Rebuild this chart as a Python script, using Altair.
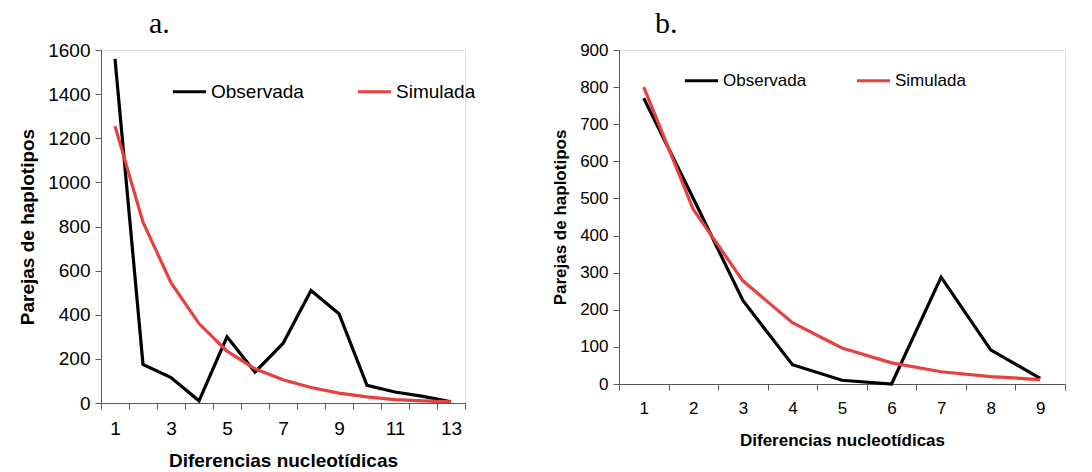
import altair as alt
import pandas as pd

# Panel a
a_x = list(range(1, 14))
a_obs = [1560, 175, 115, 10, 300, 140, 270, 510, 405, 80, 50, 30, 5]
a_sim = [1255, 820, 545, 360, 235, 155, 105, 70, 45, 28, 15, 10, 5]
a_yticks = [0, 200, 400, 600, 800, 1000, 1200, 1400, 1600]

# Panel b
b_x = list(range(1, 10))
b_obs = [770, 500, 225, 52, 10, 0, 288, 92, 15]
b_sim = [800, 470, 278, 165, 97, 57, 33, 20, 12]
b_yticks = [0, 100, 200, 300, 400, 500, 600, 700, 800, 900]

series = ["Observada", "Simulada"]
colors = ["#000000", "#E8403F"]

FONT = "Liberation Sans"


def frame(xs, obs, sim):
    rows = []
    for x, o, s in zip(xs, obs, sim):
        rows.append({"d": x, "v": o, "serie": series[0]})
        rows.append({"d": x, "v": s, "serie": series[1]})
    return pd.DataFrame(rows)


def panel(df, title, title_dx, yticks, ymax, w, h, lab_fs, tit_fs, xtp, legx, legy, colpad, label_expr):
    return alt.Chart(df).mark_line(strokeWidth=3.2, interpolate="linear").encode(
        x=alt.X("d:O", scale=alt.Scale(type="band", paddingInner=0, paddingOuter=0),
                axis=alt.Axis(title="Diferencias nucleotídicas", labelAngle=0, tickBand="extent",
                              labelExpr=label_expr, labelFontSize=lab_fs, labelFont=FONT,
                              labelColor="#000000", labelPadding=10, tickSize=6,
                              titleFont=FONT, titleFontSize=tit_fs, titleFontWeight="bold",
                              titleColor="#000000", titlePadding=xtp, domainColor="#595959",
                              tickColor="#595959", grid=False)),
        y=alt.Y("v:Q", scale=alt.Scale(domain=[0, ymax], nice=False),
                axis=alt.Axis(title="Parejas de haplotipos", values=yticks, format="d",
                              labelFontSize=lab_fs,
                              labelFont=FONT, labelColor="#000000", labelPadding=5, tickSize=6,
                              titleFont=FONT, titleFontSize=tit_fs, titleFontWeight="bold",
                              titleColor="#000000", titlePadding=10, domainColor="#595959",
                              tickColor="#595959", grid=False)),
        color=alt.Color("serie:N", scale=alt.Scale(domain=series, range=colors),
                        legend=alt.Legend(title=None, orient="none", legendX=legx, legendY=legy,
                                          direction="horizontal", symbolType="stroke",
                                          symbolSize=1100, symbolStrokeWidth=3.2,
                                          labelFontSize=lab_fs, labelFont=FONT,
                                          labelColor="#000000", columnPadding=colpad,
                                          labelOffset=3)),
    ).properties(
        width=w, height=h,
        title=alt.TitleParams(title, font="Liberation Serif", fontSize=30, fontWeight="normal",
                              anchor="start", frame="group", dx=title_dx, offset=2,
                              color="#000000"),
    )


pa = panel(frame(a_x, a_obs, a_sim), "a.", 48, a_yticks, 1600, 364, 353, 19, 19, 13, 70, 23, 47,
           "datum.value % 2 == 1 ? datum.label : ''")
pb = panel(frame(b_x, b_obs, b_sim), "b.", 36, b_yticks, 900, 446, 334, 17, 17, 16, 64, 12, 43,
           "datum.label")

chart = alt.hconcat(pa, pb, spacing=74).resolve_scale(
    x="independent", y="independent", color="independent"
).resolve_legend(color="independent").properties(
    padding={"left": 18, "top": 8, "right": 5, "bottom": 5}
).configure_view(stroke=None).configure(background="white")

chart.save("out.html", embed_options={"renderer": "svg", "actions": False})
